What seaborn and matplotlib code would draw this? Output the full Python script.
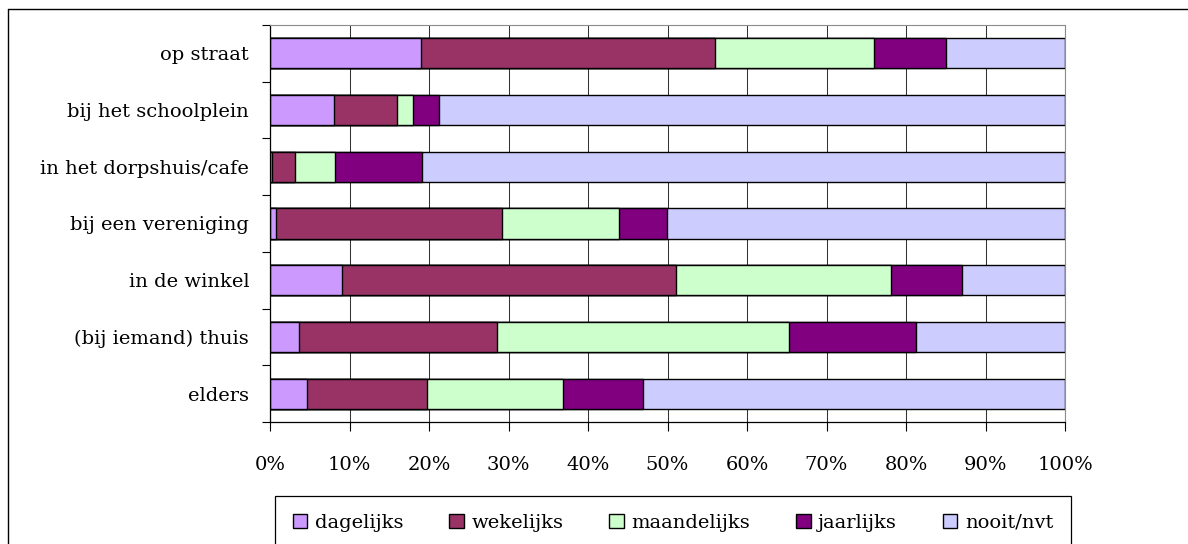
import numpy as np
import matplotlib
matplotlib.use('Agg')
import matplotlib.pyplot as plt
import seaborn as sns
from matplotlib.lines import Line2D
from matplotlib.ticker import FixedLocator

# data (percentages per location)
categories = ['op straat', 'bij het schoolplein', 'in het dorpshuis/cafe',
              'bij een vereniging', 'in de winkel', '(bij iemand) thuis', 'elders']
dagelijks = [19.0, 8.0, 0.2, 0.7, 9.1, 3.6, 4.7]
wekelijks = [37.0, 8.0, 3.0, 28.5, 42.0, 25.0, 15.0]
maandelijks = [20.0, 2.0, 5.0, 14.7, 27.0, 36.7, 17.1]
jaarlijks = [9.0, 3.2, 10.9, 6.0, 9.0, 15.9, 10.1]
nooit_nvt = [15.0, 78.8, 80.9, 50.1, 12.9, 18.8, 53.1]

series_names = ['dagelijks', 'wekelijks', 'maandelijks', 'jaarlijks', 'nooit/nvt']
series_colors = ['#CC99FF', '#993366', '#CCFFCC', '#800080', '#CCCCFF']
x_ticks = [0, 10, 20, 30, 40, 50, 60, 70, 80, 90, 100]

sns.set_style('white')
plt.rcParams['font.family'] = ['DejaVu Serif']
plt.rcParams['font.size'] = 14
plt.rcParams['text.color'] = 'black'
plt.rcParams['xtick.color'] = 'black'
plt.rcParams['ytick.color'] = 'black'

fig = plt.figure(figsize=(11.88, 5.44), dpi=100)
ax = fig.add_axes([270 / 1188, 1 - 422 / 544, 795 / 1188, 397 / 544])

values = np.array([dagelijks, wekelijks, maandelijks, jaarlijks, nooit_nvt])
cumulative = np.cumsum(values, axis=0)

# draw from the longest (cumulative) bar down so the shorter ones sit on top
for i in reversed(range(len(series_names))):
    sns.barplot(x=cumulative[i], y=categories, orient='h', color=series_colors[i],
                saturation=1, width=0.53, edgecolor='black', linewidth=1.0,
                label=series_names[i], ax=ax, zorder=2)

h, l = ax.get_legend_handles_labels()
lookup = dict(zip(l, h))
ordered = [lookup[n] for n in series_names]
if ax.get_legend() is not None:
    ax.get_legend().remove()

ax.set_xlim(0, 100)
ax.set_ylim(len(categories) - 0.5, -0.5)
ax.set_xlabel('')
ax.set_ylabel('')

ax.xaxis.set_major_locator(FixedLocator(x_ticks))
ax.set_xticklabels([f'{v}%' for v in x_ticks])
ax.tick_params(axis='x', direction='out', length=6.5, width=0.8, color='black',
               pad=18, labelsize=14, labelcolor='black', bottom=True)

ax.yaxis.set_minor_locator(FixedLocator(np.arange(-0.5, len(categories), 1.0)))
ax.tick_params(axis='y', which='major', length=0, pad=15, labelsize=14,
               labelcolor='black')
ax.tick_params(axis='y', which='minor', direction='out', length=6, width=0.8,
               color='black', left=True)

ax.grid(axis='x', color='#333333', linewidth=0.75)
ax.grid(axis='y', visible=False)
ax.set_axisbelow(True)

for side in ['left', 'bottom']:
    ax.spines[side].set_color('black')
    ax.spines[side].set_linewidth(0.9)
for side in ['top', 'right']:
    ax.spines[side].set_color('#8c8c8c')
    ax.spines[side].set_linewidth(0.8)

leg = fig.legend(ordered, series_names, loc='upper left',
                 bbox_to_anchor=(275 / 1188, 1 - 496 / 544), ncol=5,
                 borderaxespad=0, frameon=True, fancybox=False, framealpha=1,
                 edgecolor='black', borderpad=0.9, handlelength=0.75,
                 handleheight=0.75, handletextpad=0.4, columnspacing=2.35,
                 fontsize=14)
leg.get_frame().set_linewidth(0.9)

# outer chart frame (left and top edges visible)
fig.add_artist(Line2D([8 / 1188, 8 / 1188], [0, 1 - 9 / 544], color='black',
                      linewidth=1.0, transform=fig.transFigure))
fig.add_artist(Line2D([8 / 1188, 1], [1 - 9 / 544, 1 - 9 / 544], color='black',
                      linewidth=1.0, transform=fig.transFigure))

fig.savefig('out.png', dpi=100)
plt.close(fig)
